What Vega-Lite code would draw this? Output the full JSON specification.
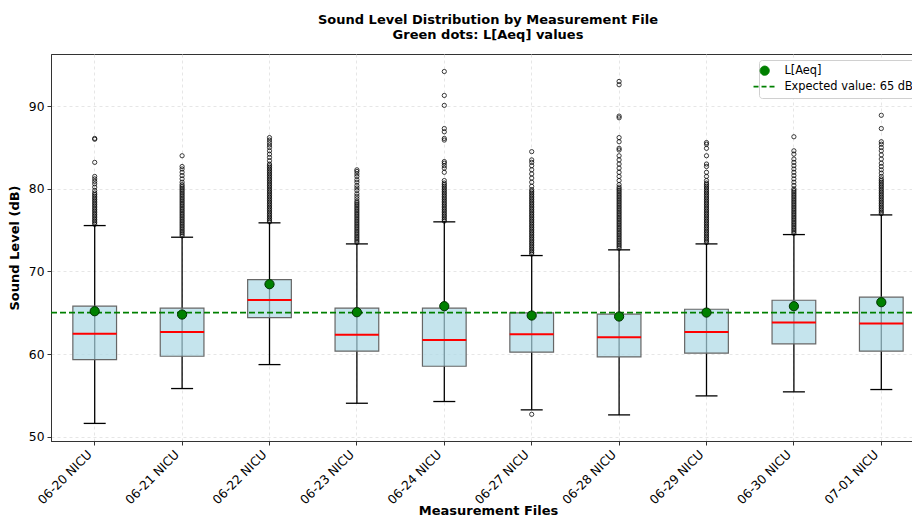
{
  "$schema": "https://vega.github.io/schema/vega-lite/v6.json",
  "width": 874,
  "height": 387,
  "padding": {"left": 8, "top": 14, "right": 0, "bottom": 0},
  "config": {
    "font": "DejaVu Sans",
    "view": {"stroke": "#333", "strokeWidth": 1},
    "axis": {"domainColor": "#333", "tickColor": "#333", "labelColor": "#000", "titleColor": "#000", "labelFontSize": 12, "titleFontSize": 13, "titleFontWeight": "bold", "tickSize": 4, "gridColor": "#e0e0e0", "gridDash": [3, 3], "gridWidth": 0.8}
  },
  "title": {"text": ["Sound Level Distribution by Measurement File", "Green dots: L[Aeq] values"], "fontSize": 13, "fontWeight": "bold", "anchor": "middle", "lineHeight": 15, "offset": 12, "color": "#000"},
  "datasets": {
    "boxes": [
      {"f": "06-20 NICU", "lo": 51.6, "q1": 59.33, "med": 62.44, "q3": 65.79, "hi": 75.55, "laeq": 65.18},
      {"f": "06-21 NICU", "lo": 55.82, "q1": 59.73, "med": 62.68, "q3": 65.55, "hi": 74.14, "laeq": 64.78},
      {"f": "06-22 NICU", "lo": 58.72, "q1": 64.41, "med": 66.55, "q3": 69.0, "hi": 75.88, "laeq": 68.45},
      {"f": "06-23 NICU", "lo": 54.04, "q1": 60.34, "med": 62.32, "q3": 65.55, "hi": 73.33, "laeq": 65.06},
      {"f": "06-24 NICU", "lo": 54.25, "q1": 58.52, "med": 61.71, "q3": 65.55, "hi": 76.0, "laeq": 65.79},
      {"f": "06-27 NICU", "lo": 53.24, "q1": 60.22, "med": 62.4, "q3": 64.98, "hi": 71.92, "laeq": 64.66},
      {"f": "06-28 NICU", "lo": 52.63, "q1": 59.65, "med": 62.03, "q3": 64.82, "hi": 72.61, "laeq": 64.54},
      {"f": "06-29 NICU", "lo": 54.93, "q1": 60.1, "med": 62.68, "q3": 65.42, "hi": 73.33, "laeq": 65.02},
      {"f": "06-30 NICU", "lo": 55.42, "q1": 61.23, "med": 63.81, "q3": 66.51, "hi": 74.46, "laeq": 65.79},
      {"f": "07-01 NICU", "lo": 55.7, "q1": 60.34, "med": 63.69, "q3": 66.88, "hi": 76.84, "laeq": 66.27}
    ],
    "outliers": [
      {"f": "06-20 NICU", "v": [75.7,75.9,76.1,76.3,76.5,76.7,76.9,77.1,77.3,77.5,77.7,77.9,78.1,78.3,78.5,78.7,78.9,79.1,79.3,79.5,79.8,80.2,80.6,80.9,81.2,81.5,83.2,86.0,86.1]},
      {"f": "06-21 NICU", "v": [74.3,74.5,74.7,74.9,75.1,75.3,75.5,75.7,75.9,76.1,76.3,76.5,76.7,76.9,77.1,77.3,77.5,77.7,77.9,78.1,78.3,78.5,78.7,78.9,79.1,79.3,79.5,79.7,79.9,80.1,80.3,80.5,80.8,81.2,81.6,82.0,82.4,82.7,84.0]},
      {"f": "06-22 NICU", "v": [76.0,76.2,76.4,76.6,76.8,77.0,77.2,77.4,77.6,77.8,78.0,78.2,78.4,78.6,78.8,79.0,79.2,79.4,79.6,79.8,80.0,80.2,80.4,80.6,80.8,81.0,81.2,81.4,81.6,81.8,82.0,82.2,82.4,82.6,82.8,83.0,83.4,83.8,84.2,84.6,85.0,85.3,85.6,85.9,86.2]},
      {"f": "06-23 NICU", "v": [73.5,73.7,73.9,74.1,74.3,74.5,74.7,74.9,75.1,75.3,75.5,75.7,75.9,76.1,76.3,76.5,76.7,76.9,77.1,77.3,77.5,77.7,77.9,78.1,78.3,78.5,78.8,79.1,79.4,79.8,80.1,80.4,80.8,81.1,81.5,81.8,82.1,82.3]},
      {"f": "06-24 NICU", "v": [76.1,76.3,76.5,76.7,76.9,77.1,77.3,77.5,77.7,77.9,78.1,78.3,78.5,78.7,78.9,79.1,79.3,79.5,79.7,79.9,80.1,80.3,80.5,80.7,81.0,82.0,82.5,82.8,83.1,83.3,85.9,86.1,86.9,87.3,90.1,91.3,94.2]},
      {"f": "06-27 NICU", "v": [52.7,72.1,72.3,72.5,72.7,72.9,73.1,73.3,73.5,73.7,73.9,74.1,74.3,74.5,74.7,74.9,75.1,75.3,75.5,75.7,75.9,76.1,76.3,76.5,76.7,76.9,77.1,77.3,77.5,77.7,77.9,78.1,78.3,78.5,78.7,78.9,79.1,79.3,79.5,79.7,79.9,80.3,80.8,81.3,81.8,82.3,82.8,83.2,83.5,84.5]},
      {"f": "06-28 NICU", "v": [72.8,73.0,73.2,73.4,73.6,73.8,74.0,74.2,74.4,74.6,74.8,75.0,75.2,75.4,75.6,75.8,76.0,76.2,76.4,76.6,76.8,77.0,77.2,77.4,77.6,77.8,78.0,78.2,78.4,78.6,78.8,79.0,79.2,79.4,79.6,79.8,80.0,80.2,80.5,81.0,81.5,82.0,82.5,83.0,83.5,84.0,84.7,84.9,85.7,86.2,88.6,88.8,92.6,93.0]},
      {"f": "06-29 NICU", "v": [73.5,73.7,73.9,74.1,74.3,74.5,74.7,74.9,75.1,75.3,75.5,75.7,75.9,76.1,76.3,76.5,76.7,76.9,77.1,77.3,77.5,77.7,77.9,78.1,78.3,78.5,78.7,78.9,79.1,79.3,79.5,79.7,79.9,80.1,80.3,80.5,80.7,81.0,81.5,82.0,82.7,83.0,84.0,84.9,85.4,85.6]},
      {"f": "06-30 NICU", "v": [74.6,74.8,75.0,75.2,75.4,75.6,75.8,76.0,76.2,76.4,76.6,76.8,77.0,77.2,77.4,77.6,77.8,78.0,78.2,78.4,78.6,78.8,79.0,79.2,79.4,79.6,79.8,80.0,80.4,80.8,81.2,81.6,82.0,82.4,82.8,83.2,83.6,84.2,84.6,86.3]},
      {"f": "07-01 NICU", "v": [77.0,77.2,77.4,77.6,77.8,78.0,78.2,78.4,78.6,78.8,79.0,79.2,79.4,79.6,79.8,80.0,80.2,80.4,80.6,80.8,81.0,81.2,81.5,81.9,82.3,82.7,83.1,83.6,84.1,84.6,85.0,85.4,85.7,87.3,88.9]}
    ]
  },
  "encoding": {
    "x": {"field": "f", "type": "nominal", "sort": null,
      "scale": {"paddingInner": 0, "paddingOuter": 0},
      "axis": {"title": "Measurement Files", "labelAngle": -45, "labelAlign": "right", "labelBaseline": "bottom", "grid": true, "bandPosition": 0.5, "labelPadding": 12, "titlePadding": -2, "labelFontSize": 12.3}
    }
  },
  "layer": [
    {
      "data": {"name": "boxes"},
      "mark": {"type": "rule", "color": "#000", "strokeWidth": 1.3},
      "encoding": {
        "y": {"field": "lo", "type": "quantitative", "scale": {"domain": [49.47, 96.32], "nice": false, "zero": false},
          "axis": {"title": "Sound Level (dB)", "values": [50, 60, 70, 80, 90], "grid": true, "labelPadding": 3, "titlePadding": 7, "labelFontSize": 12.3}},
        "y2": {"field": "hi"}
      }
    },
    {
      "data": {"name": "boxes"},
      "mark": {"type": "bar", "fill": "#add8e6", "fillOpacity": 0.7, "stroke": "#666", "strokeWidth": 1.2, "width": {"band": 0.5}},
      "encoding": {
        "y": {"field": "q1", "type": "quantitative"},
        "y2": {"field": "q3"}
      }
    },
    {
      "data": {"name": "boxes"},
      "mark": {"type": "tick", "color": "red", "size": 44, "thickness": 2, "opacity": 1},
      "encoding": {"y": {"field": "med", "type": "quantitative"}}
    },
    {
      "data": {"name": "boxes"},
      "mark": {"type": "tick", "color": "#000", "size": 22, "thickness": 1.3, "opacity": 1},
      "encoding": {"y": {"field": "lo", "type": "quantitative"}}
    },
    {
      "data": {"name": "boxes"},
      "mark": {"type": "tick", "color": "#000", "size": 22, "thickness": 1.3, "opacity": 1},
      "encoding": {"y": {"field": "hi", "type": "quantitative"}}
    },
    {
      "data": {"name": "outliers"},
      "transform": [{"flatten": ["v"]}],
      "mark": {"type": "point", "shape": "circle", "filled": false, "size": 18, "stroke": "#000", "strokeWidth": 0.9, "opacity": 0.85},
      "encoding": {"y": {"field": "v", "type": "quantitative"}}
    },
    {
      "data": {"values": [{"v": 65}]},
      "mark": {"type": "rule", "strokeDash": [6, 3], "strokeWidth": 1.8},
      "encoding": {
        "x": {"value": 0},
        "x2": {"value": 874},
        "y": {"field": "v", "type": "quantitative"},
        "color": {"datum": "Expected value: 65 dB",
          "scale": {"domain": ["L[Aeq]", "Expected value: 65 dB"], "range": ["green", "green"]},
          "legend": {"orient": "none", "legendX": 708, "legendY": 6, "title": null, "labelFontSize": 11.4, "labelFont": "DejaVu Sans", "labelColor": "#000", "strokeColor": "#d0d0d0", "fillColor": "white", "padding": 5, "cornerRadius": 3, "rowPadding": 2, "labelOffset": 14, "symbolOffset": -5,
            "encode": {"symbols": {"update": {
              "shape": {"signal": "datum.value === 'L[Aeq]' ? 'circle' : 'M-1,0H1'"},
              "size": {"signal": "datum.value === 'L[Aeq]' ? 85 : 500"},
              "fill": {"signal": "datum.value === 'L[Aeq]' ? 'green' : 'transparent'"},
              "stroke": {"signal": "datum.value === 'L[Aeq]' ? '#003300' : 'green'"},
              "strokeDash": {"signal": "datum.value === 'L[Aeq]' ? [1, 0] : [5, 3]"},
              "strokeWidth": {"signal": "datum.value === 'L[Aeq]' ? 1 : 1.8"},
              "opacity": {"value": 1}
            }}}
          }
        }
      }
    },
    {
      "data": {"name": "boxes"},
      "mark": {"type": "point", "shape": "circle", "filled": true, "size": 85, "fill": "green", "stroke": "#003300", "strokeWidth": 1, "opacity": 1},
      "encoding": {
        "y": {"field": "laeq", "type": "quantitative"}
      }
    }
  ]
}
